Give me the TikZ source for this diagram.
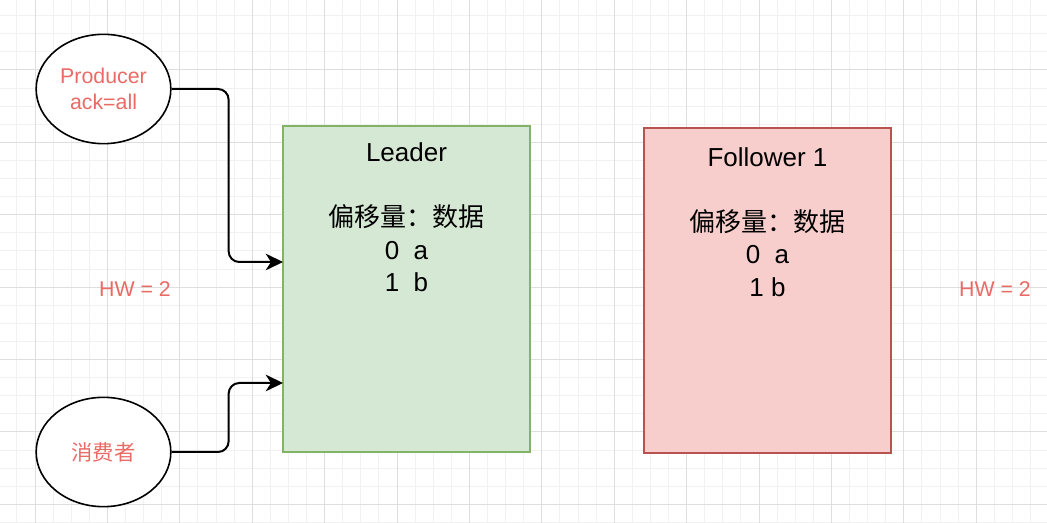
\documentclass[tikz,border=0pt]{standalone}
\usepackage{fontspec}
\setmainfont{Liberation Sans}
\newfontfamily\cjk{Noto Sans CJK SC}
\usetikzlibrary{arrows.meta,shapes.geometric}
\definecolor{hwred}{HTML}{EA6B66}
\definecolor{leaderfill}{HTML}{D5E8D4}
\definecolor{leaderline}{HTML}{82B366}
\definecolor{followerfill}{HTML}{F8CECC}
\definecolor{followerline}{HTML}{B85450}
\definecolor{gridminor}{HTML}{F1F1F1}
\definecolor{gridmajor}{HTML}{DEDEDE}

\tikzset{
  x=0.75pt, y=-0.75pt,
  minorline/.style = {draw=gridminor, line width=0.75pt},
  majorline/.style = {draw=gridmajor, line width=0.75pt},
  client/.style    = {ellipse, draw, line width=1.2pt, fill=white,
                      text=hwred, align=center, inner sep=0,
                      font=\fontsize{16}{20}\selectfont,
                      minimum width=101pt, minimum height=82pt},
  broker/.style    = {rectangle, line width=1.4pt,
                      minimum width=185pt, minimum height=244pt},
  leaderbox/.style = {broker, draw=leaderline, fill=leaderfill},
  followerbox/.style = {broker, draw=followerline, fill=followerfill},
  boxtext/.style   = {align=center, anchor=base, inner sep=0,
                      font=\fontsize{19.5}{24.4}\selectfont},
  hwlabel/.style   = {text=hwred, font=\fontsize{16}{20}\selectfont},
  flow/.style      = {draw, line width=1.5pt, rounded corners=8pt,
                      -{Stealth[length=13pt, width=12.5pt, inset=4pt]}}
}

\begin{document}
\begin{tikzpicture}
\useasboundingbox (0,0) rectangle (1047,523);
\fill[white] (0,0) rectangle (1047,523);

\foreach \k in {0,...,58}
  \draw[minorline] ({-1.2+18.1*\k},0) -- ({-1.2+18.1*\k},523);
\foreach \k in {0,...,29}
  \draw[minorline] (0,{-2.4+18.1*\k}) -- (1047,{-2.4+18.1*\k});
\foreach \k in {0,...,13}
  \draw[majorline] ({35+72.4*\k},0) -- ({35+72.4*\k},523);
\foreach \k in {0,...,6}
  \draw[majorline] (0,{70+72.4*\k}) -- (1047,{70+72.4*\k});

\node[client] (producer) at (103.5,89) {Producer\\ack=all};
\node[client] (consumer) at (103.5,452) {\cjk 消费者};

\node[leaderbox] (leader) at (406.5,289) {};
\node[boxtext] (leadertext) at (406.5,292)
  {Leader\\[24.4pt]{\cjk 偏移量：数据}\\0\ \ a\\1\ \ b};

\node[followerbox] (follower) at (767.5,290.5) {};
\node[boxtext] (followertext) at (767.5,296.5)
  {Follower 1\\[24.4pt]{\cjk 偏移量：数据}\\0\ \ a\\1 b};

\node[hwlabel] (hwleader) at (135,289) {HW = 2};
\node[hwlabel] (hwfollower) at (995,289) {HW = 2};

\coordinate (produce) at (283,262);
\coordinate (consume) at (283,383);
\draw[flow] (producer.east) -- ++(57,0) |- (produce);
\draw[flow] (consumer.east) -- ++(57,0) |- (consume);
\end{tikzpicture}
\end{document}
